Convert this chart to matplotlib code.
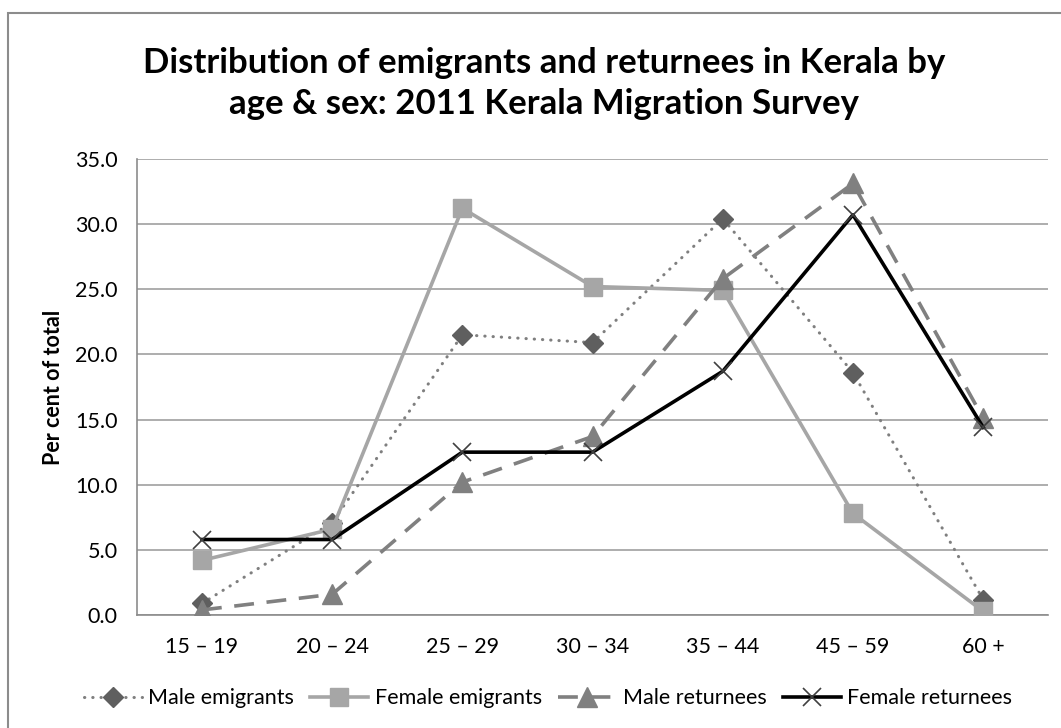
import matplotlib
matplotlib.use("Agg")
import matplotlib.pyplot as plt
from matplotlib.patches import Rectangle

ages = ["15 – 19", "20 – 24", "25 – 29", "30 – 34", "35 – 44", "45 – 59", "60 +"]
male_emig = [0.9, 7.1, 21.5, 20.9, 30.4, 18.6, 1.2]
female_emig = [4.2, 6.6, 31.2, 25.2, 24.9, 7.8, 0.3]
male_ret = [0.4, 1.6, 10.2, 13.7, 25.8, 33.1, 15.1]
female_ret = [5.8, 5.8, 12.5, 12.5, 18.7, 30.7, 14.4]
yticks = [0, 5, 10, 15, 20, 25, 30, 35]

plt.rcParams['font.family'] = ['Lato', 'DejaVu Sans']

fig = plt.figure(figsize=(10.61, 7.28), dpi=100)
ax = fig.add_axes([0.129, 0.155, 0.859, 0.627])

x = list(range(len(ages)))
ax.plot(x, male_emig, color="#7f7f7f", lw=2.2, ls=(0, (0.1, 2.6)), dash_capstyle="round",
        marker="D", ms=10, mfc="#5f5f5f", mec="#5f5f5f", label="Male emigrants", zorder=3)
ax.plot(x, female_emig, color="#a6a6a6", lw=2.6, marker="s", ms=13, mfc="#a6a6a6", mec="#a6a6a6",
        label="Female emigrants", zorder=3)
ax.plot(x, male_ret, color="#808080", lw=2.6, ls=(0, (5.5, 3.5)),
        marker="^", ms=14, mfc="#808080", mec="#808080", label="Male returnees", zorder=3)
ax.plot(x, female_ret, color="black", lw=2.6, marker="x", ms=13, mew=1.2, mec="#404040",
        label="Female returnees", zorder=4)

ax.set_xlim(-0.5, 6.5)
ax.set_ylim(0, 35)
ax.set_xticks(x)
ax.set_xticklabels(ages)
ax.set_yticks(yticks)
ax.set_yticklabels([f"{v:.1f}" for v in yticks])
ax.yaxis.grid(True, color="#a0a0a0", lw=1.2)
ax.set_axisbelow(True)
for s in ["top", "right"]:
    ax.spines[s].set_visible(False)
ax.spines["left"].set_color("#8c8c8c")
ax.spines["bottom"].set_color("#8c8c8c")
ax.spines["left"].set_linewidth(1.2)
ax.spines["bottom"].set_linewidth(1.2)
ax.tick_params(axis="y", length=0, labelsize=15.5, pad=14)
ax.tick_params(axis="x", length=0, labelsize=15.5, pad=16)

ax.set_ylabel("Per cent of total", fontsize=15.5, fontweight="bold", labelpad=8)

fig.suptitle("Distribution of emigrants and returnees in Kerala by\nage & sex: 2011 Kerala Migration Survey",
             x=0.513, y=0.935, fontsize=25, fontweight="bold", linespacing=1.32)

ax.legend(loc="center", bbox_to_anchor=(0.451, -0.182), ncol=4, frameon=False,
          fontsize=15.5, handlelength=2.7, handletextpad=0.3, columnspacing=0.75,
          bbox_transform=ax.transAxes)

fig.patches.append(Rectangle((0.008, -0.1), 1.1, 1.082, transform=fig.transFigure,
                             fill=False, ec="#8c8c8c", lw=1.5))

fig.savefig("out.png", dpi=100)
